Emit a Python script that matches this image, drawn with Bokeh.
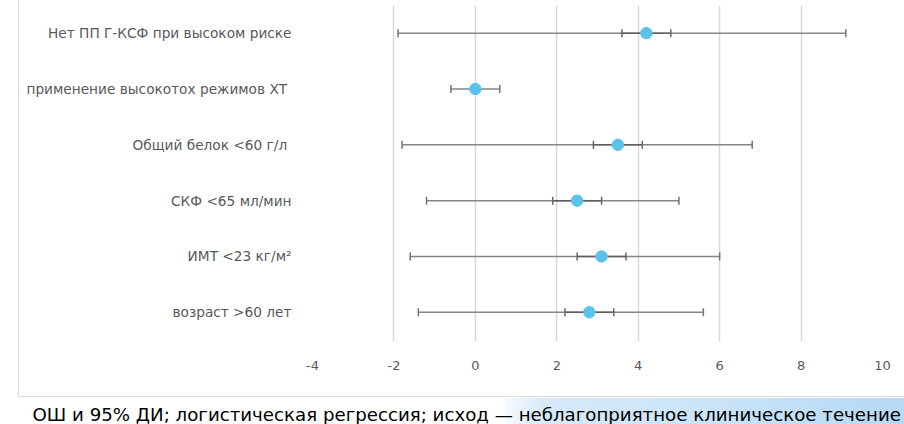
from bokeh.plotting import figure
from bokeh.models import Range1d, Whisker, ColumnDataSource, FixedTicker, Title, TeeHead
from bokeh.embed import file_html
from bokeh.resources import INLINE

categories = ["возраст >60 лет", "ИМТ <23 кг/м²", "СКФ <65 мл/мин",
              "Общий  белок <60 г/л", "применение высокотох режимов ХТ ",
              "Нет ПП Г-КСФ при высоком риске"]
odds = [2.8, 3.1, 2.5, 3.5, 0.0, 4.2]
ci_low = [-1.4, -1.6, -1.2, -1.8, -0.6, -1.9]
ci_high = [5.6, 6.0, 5.0, 6.8, 0.6, 9.1]
inner_low = [2.2, 2.5, 1.9, 2.9, 0.0, 3.6]
inner_high = [3.4, 3.7, 3.1, 4.1, 0.0, 4.8]
x_ticks = [-4, -2, 0, 2, 4, 6, 8, 10]
caption = "ОШ и 95% ДИ; логистическая регрессия; исход — неблагоприятное клиническое течение"

FONT = "DejaVu Sans"
GRAY = "#595959"

ypos = list(range(len(categories)))
src = ColumnDataSource(dict(y=ypos, x=odds, lo=ci_low, hi=ci_high,
                            ilo=inner_low, ihi=inner_high))

p = figure(width=904, height=424, output_backend="svg", toolbar_location=None,
           x_range=Range1d(x_ticks[0], x_ticks[-1]),
           y_range=Range1d(-0.523, len(categories) - 1 + 0.495),
           min_border_left=312, min_border_right=22, min_border_top=5,
           min_border_bottom=82)
p.outline_line_color = None
p.background_fill_color = "white"
p.border_fill_color = None
p.styles = {
    "background": (
        "linear-gradient(#dcdcdc,#dcdcdc) 18px 0px / 1px 397px no-repeat, "
        "linear-gradient(#dcdcdc,#dcdcdc) 18px 396px / 886px 1px no-repeat, "
        "linear-gradient(to right, #f6fafe 0%, #d6eafa 10%, #cae4f8 50%, #b7d9f4 100%) "
        "505px 398px / 399px 26px no-repeat, #ffffff"
    )
}

# axes
p.xaxis.ticker = FixedTicker(ticks=x_ticks)
p.xaxis.major_label_overrides = {t: str(t) for t in x_ticks}
p.xaxis.axis_line_color = None
p.xaxis.major_tick_line_color = None
p.xaxis.minor_tick_line_color = None
p.xaxis.major_label_standoff = 13
p.xaxis.major_label_text_font = FONT
p.xaxis.major_label_text_font_size = "13px"
p.xaxis.major_label_text_color = GRAY
# invisible spacer between tick labels and caption
p.xaxis.axis_label = "\u00a0"
p.xaxis.axis_label_standoff = 15
p.xaxis.axis_label_text_font_size = "10px"

p.yaxis.ticker = FixedTicker(ticks=ypos)
p.yaxis.major_label_overrides = {i: c for i, c in zip(ypos, categories)}
p.yaxis.axis_line_color = None
p.yaxis.major_tick_line_color = None
p.yaxis.minor_tick_line_color = None
p.yaxis.major_label_standoff = 15
p.yaxis.major_label_text_font = FONT
p.yaxis.major_label_text_font_size = "13.7px"
p.yaxis.major_label_text_color = GRAY

p.xgrid.ticker = FixedTicker(ticks=x_ticks)
p.xgrid.grid_line_color = "#d9d9d9"
p.xgrid.grid_line_width = 1.5
p.ygrid.grid_line_color = None

# error bars
outer = Whisker(source=src, base="y", lower="lo", upper="hi", dimension="width",
                line_color="#858585", line_width=1.5,
                lower_head=TeeHead(size=8, line_color="#737373", line_width=1.5),
                upper_head=TeeHead(size=8, line_color="#737373", line_width=1.5))
inner = Whisker(source=src, base="y", lower="ilo", upper="ihi", dimension="width",
                line_color="#5f5f5f", line_width=1.5,
                lower_head=TeeHead(size=8, line_color="#666666", line_width=1.5),
                upper_head=TeeHead(size=8, line_color="#666666", line_width=1.5))
p.add_layout(outer)
p.add_layout(inner)

p.scatter("x", "y", source=src, size=11.5, fill_color="#5bc2ec", line_color="#5bc2ec")

cap = Title(text=caption, align="left", offset=-280, standoff=0,
            vertical_align="bottom",
            text_font=FONT, text_font_size="18.2px", text_font_style="normal",
            text_color="black", background_fill_color=None, border_line_color=None)
p.add_layout(cap, "below")

open("out.html", "w").write(file_html(p, INLINE))
